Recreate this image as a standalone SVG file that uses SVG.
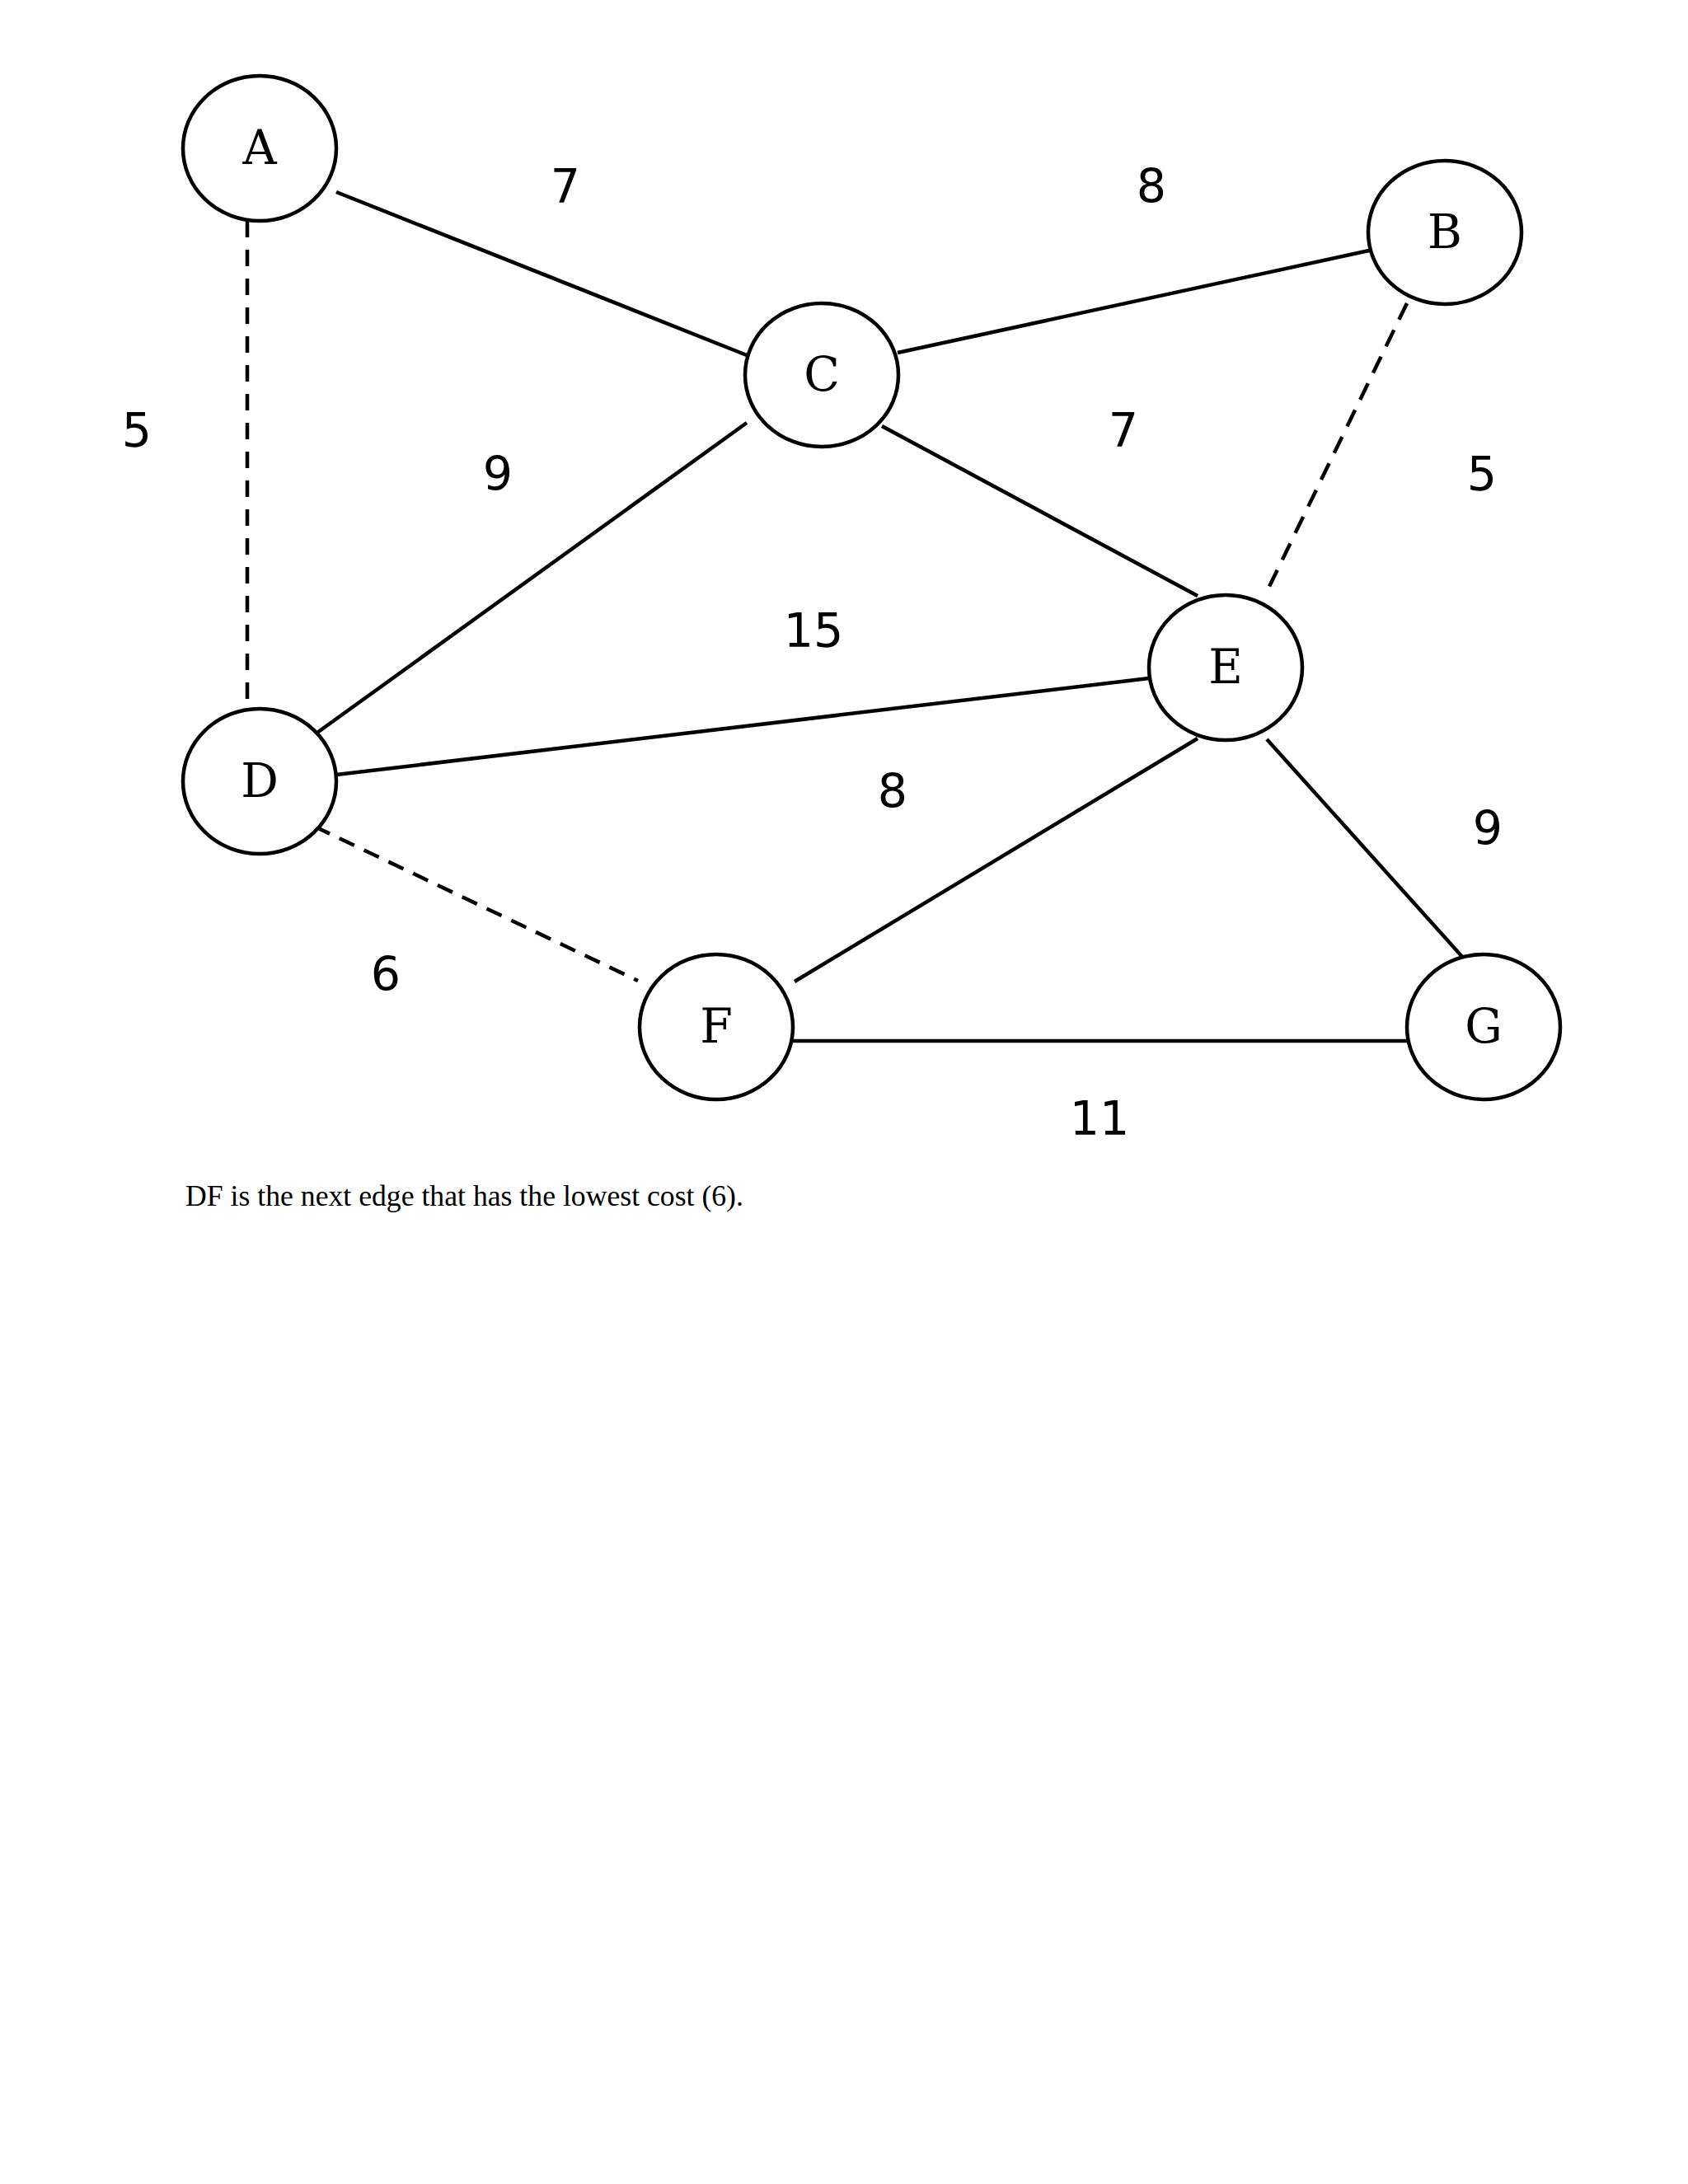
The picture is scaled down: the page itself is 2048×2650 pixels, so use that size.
<svg xmlns="http://www.w3.org/2000/svg" width="2048" height="2650" viewBox="0 0 2048 2650">
<style>
.node ellipse{fill:#fff;stroke:#000;stroke-width:4.5}
.node text{font-family:"DejaVu Serif",serif;font-size:57px;text-anchor:middle;fill:#000}
.e{stroke:#000;stroke-width:4.5;fill:none}
.d{stroke-dasharray:20 15}
.lbl{font-family:"DejaVu Sans",sans-serif;font-size:57px;text-anchor:middle;fill:#000}
.cap{font-family:"Liberation Serif",serif;font-size:35.7px;fill:#000}
</style>
<rect width="2048" height="2650" fill="#fff"/>
<g id="connectors">
<line class="e" x1="408" y1="233" x2="906" y2="431"/>
<line class="e" x1="1089" y1="428" x2="1661" y2="304"/>
<line class="e d" x1="300" y1="268" x2="300" y2="862" stroke-width="5"/>
<line class="e" x1="906" y1="513" x2="382" y2="891"/>
<line class="e" x1="1070" y1="517" x2="1453" y2="723"/>
<line class="e" x1="1707" y1="368" x2="1535" y2="722" stroke-width="3.5" style="stroke-dasharray:22 14"/>
<line class="e" x1="408" y1="940" x2="1394" y2="823"/>
<line class="e" x1="382" y1="1003" x2="774" y2="1190" stroke-width="5" style="stroke-dasharray:20 13"/>
<line class="e" x1="1453" y1="896" x2="964" y2="1191"/>
<line class="e" x1="1537" y1="897" x2="1776" y2="1163"/>
<line class="e" x1="962" y1="1263" x2="1707" y2="1263" stroke-width="7"/>
</g>
<g id="labels">
<text class="lbl" x="686" y="246">7</text>
<text class="lbl" x="1397" y="246">8</text>
<text class="lbl" x="166" y="542">5</text>
<text class="lbl" x="604" y="595">9</text>
<text class="lbl" x="1363" y="542">7</text>
<text class="lbl" x="1798" y="595">5</text>
<text class="lbl" x="987" y="785">15</text>
<text class="lbl" x="1083" y="980">8</text>
<text class="lbl" x="1805" y="1025">9</text>
<text class="lbl" x="468" y="1202">6</text>
<text class="lbl" x="1334" y="1377">11</text>
</g>
<g id="node-A" class="node"><ellipse cx="315" cy="180" rx="93" ry="88"/><text x="315" y="199">A</text></g>
<g id="node-B" class="node"><ellipse cx="1753" cy="282" rx="93" ry="87"/><text x="1753" y="301">B</text></g>
<g id="node-C" class="node"><ellipse cx="997" cy="455" rx="93" ry="87"/><text x="997" y="474">C</text></g>
<g id="node-D" class="node"><ellipse cx="315" cy="948" rx="93" ry="88"/><text x="315" y="967">D</text></g>
<g id="node-E" class="node"><ellipse cx="1487" cy="810" rx="93" ry="88"/><text x="1487" y="829">E</text></g>
<g id="node-F" class="node"><ellipse cx="869" cy="1246" rx="93" ry="88"/><text x="869" y="1265">F</text></g>
<g id="node-G" class="node"><ellipse cx="1800" cy="1246" rx="93" ry="88"/><text x="1800" y="1265">G</text></g>
<text class="cap" x="225" y="1463">DF is the next edge that has the lowest cost (6).</text>
</svg>
